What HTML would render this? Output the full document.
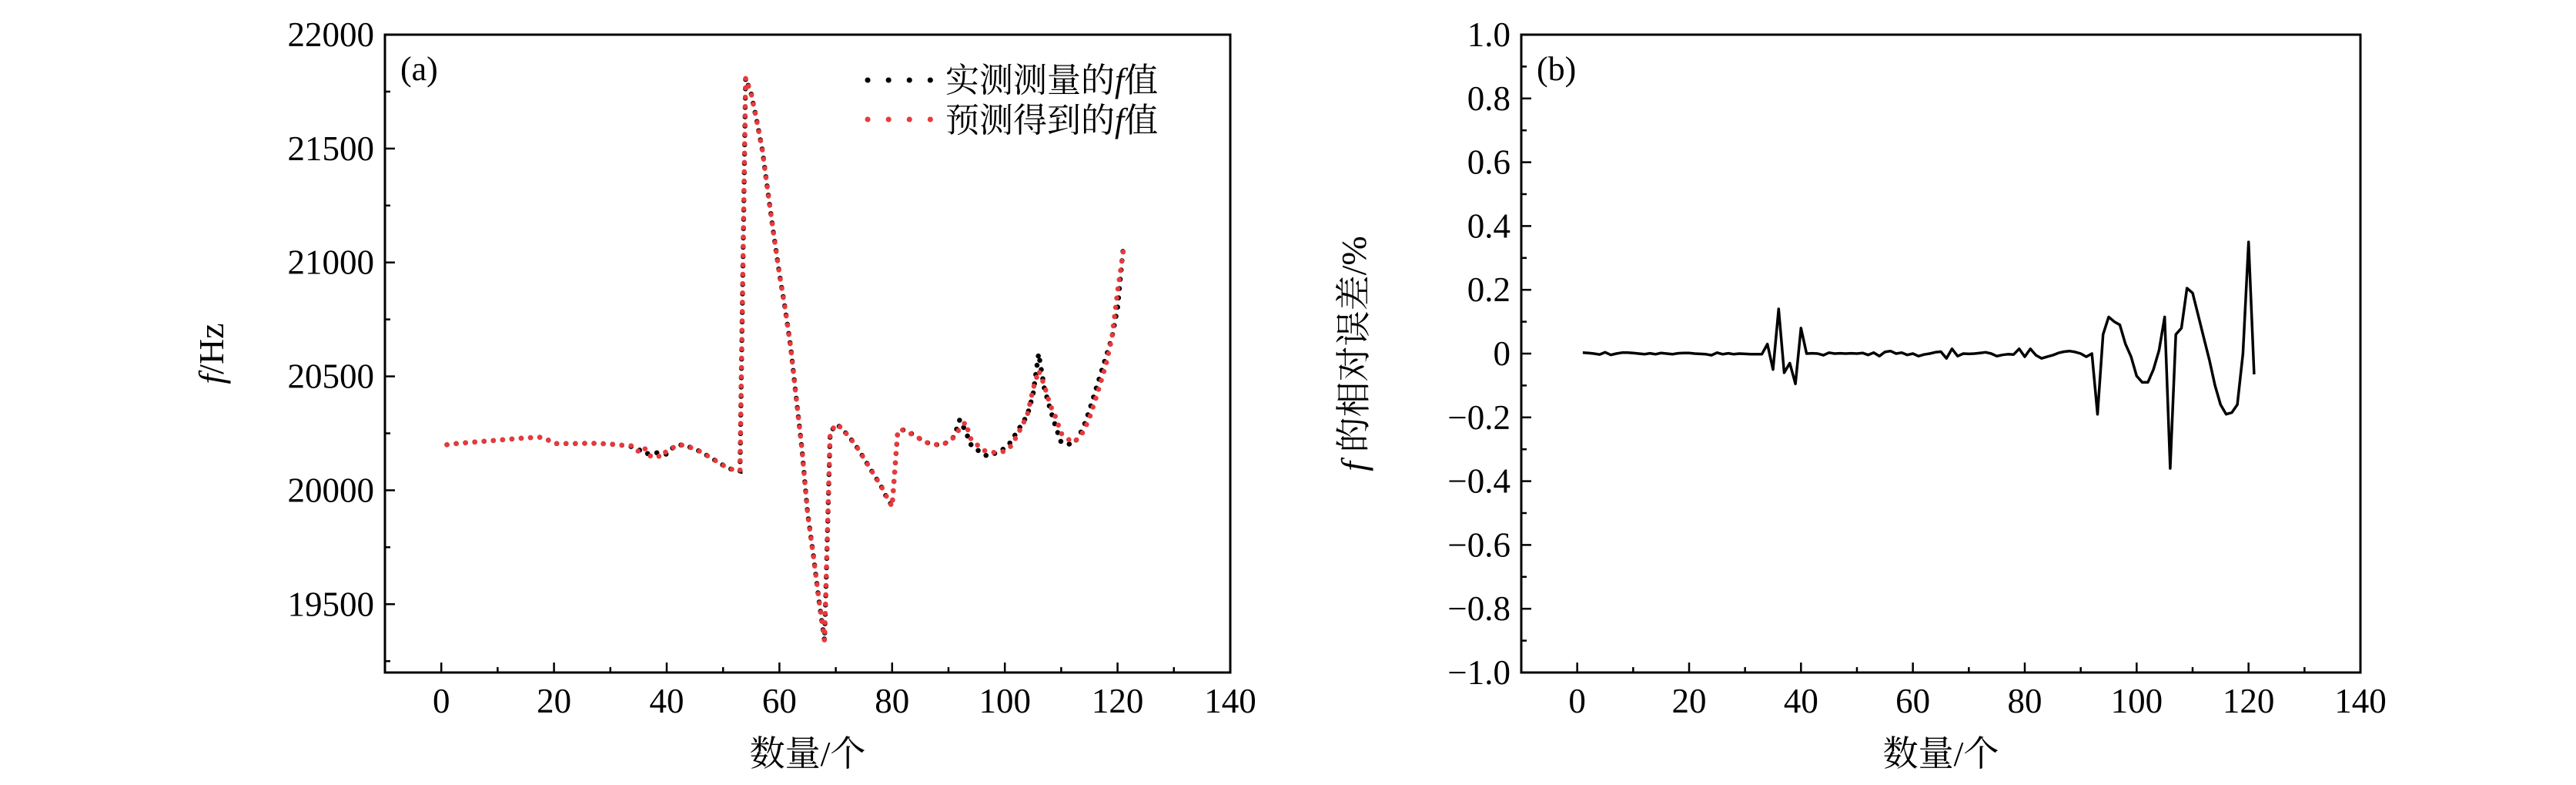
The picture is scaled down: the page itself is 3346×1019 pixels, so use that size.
<!DOCTYPE html>
<html><head><meta charset="utf-8"><style>
html,body{margin:0;padding:0;background:#fff}
svg text{font-family:"Liberation Serif","Noto Serif CJK SC",serif;fill:#000}
</style></head><body>
<svg id="chart" width="3346" height="1014" viewBox="0 0 3346 1014" xmlns="http://www.w3.org/2000/svg">
<g id="pa"></g>
<g id="pb"></g>
</svg>
<script>
const measuredF = [20200,20203,20206,20208,20210,20212,20214,20216,20218,20220,20222,20224,20226,20228,20230,20231,20232,20233,20220,20205,20205,20205,20205,20205,20206,20206,20206,20205,20204,20203,20200,20198,20195,20190,20180,20160,20162,20165,20163,20158,20185,20200,20198,20190,20180,20170,20155,20140,20125,20110,20095,20090,20085,21810,21740,21620,21490,21300,21120,20950,20800,20630,20400,20180,19900,19720,19520,19340,20250,20290,20275,20245,20215,20180,20140,20100,20060,20020,19970,19930,20260,20265,20255,20240,20225,20210,20205,20200,20200,20215,20235,20310,20260,20200,20180,20160,20150,20160,20170,20185,20210,20250,20290,20330,20420,20600,20450,20360,20280,20210,20205,20200,20230,20280,20350,20430,20510,20590,20670,20800,21060];
const predictedF = [20200,20203,20206,20208,20210,20212,20214,20216,20218,20220,20222,20224,20226,20228,20230,20231,20232,20233,20220,20205,20205,20205,20205,20205,20206,20206,20206,20205,20204,20203,20200,20198,20195,20196,20170,20188,20150,20158,20144,20174,20185,20200,20198,20190,20180,20170,20155,20140,20125,20110,20095,20090,20085,21810,21740,21620,21490,21300,21120,20950,20800,20630,20400,20180,19900,19717,19523,19340,20250,20290,20275,20245,20215,20180,20140,20100,20060,20020,19973,19928,20263,20265,20252,20240,20225,20210,20205,20200,20200,20215,20233,20271,20298,20224,20202,20178,20168,20166,20168,20171,20192,20232,20280,20332,20443,20526,20462,20376,20322,20250,20229,20210,20226,20260,20316,20391,20472,20557,20670,20873,21046];
const relError = [0.003,0.002,0,-0.003,0.004,-0.004,0,0.003,0.003,0.002,0,-0.002,0.001,-0.002,0.002,0,-0.002,0.001,0.002,0.002,0,-0.001,-0.002,-0.005,0.003,-0.002,0.001,-0.002,0,-0.001,-0.002,-0.002,-0.002,0.03,-0.05,0.14,-0.06,-0.03,-0.095,0.08,0,0.001,0,-0.005,0.003,0,0.001,0,0.001,0,0.002,-0.004,0.003,-0.008,0.005,0.008,0,0.003,-0.004,0,-0.008,-0.003,0,0.004,0.006,-0.015,0.015,-0.008,0,-0.001,0,0.002,0.004,0,-0.008,-0.004,-0.002,-0.003,0.015,-0.01,0.015,-0.005,-0.015,-0.01,-0.005,0.002,0.006,0.008,0.005,0,-0.01,0,-0.19,0.06,0.115,0.1,0.09,0.03,-0.01,-0.07,-0.09,-0.09,-0.05,0.01,0.115,-0.36,0.06,0.08,0.205,0.19,0.12,0.05,-0.02,-0.1,-0.16,-0.19,-0.185,-0.16,0,0.35,-0.065];
const xTicks = [0,20,40,60,80,100,120,140];
const yTicksA = [19500,20000,20500,21000,21500,22000];
const yTicksB = [-1.0,-0.8,-0.6,-0.4,-0.2,0,0.2,0.4,0.6,0.8,1.0];
const yLabelsB = ["−1.0","−0.8","−0.6","−0.4","−0.2","0","0.2","0.4","0.6","0.8","1.0"];

const NS="http://www.w3.org/2000/svg";
function mk(parent,tag,attrs,text){const e=document.createElementNS(NS,tag);for(const k in attrs)e.setAttribute(k,attrs[k]);if(text!==undefined)e.textContent=text;parent.appendChild(e);return e;}

const A={l:500,r:1598,t:45,b:873,x0:-10,x1:140,y0:19200,y1:22000};
const B={l:1976,r:3066,t:45,b:873,x0:-10,x1:140,y0:-1,y1:1};
function sx(P,v){return P.l+(v-P.x0)/(P.x1-P.x0)*(P.r-P.l);}
function sy(P,v){return P.b-(v-P.y0)/(P.y1-P.y0)*(P.b-P.t);}

function axes(g,P,yt,ylab){
  let e=mk(g,'rect',{x:P.l,y:P.t,width:P.r-P.l,height:P.b-P.t,fill:'none',stroke:'#000','stroke-width':3});
  
  for(let v=P.x0;v<=P.x1;v+=10){const big=xTicks.includes(v);
    e=mk(g,'line',{x1:sx(P,v),x2:sx(P,v),y1:P.b,y2:P.b-(big?13:7),stroke:'#000','stroke-width':2.5});
    }
  xTicks.forEach(v=>{e=mk(g,'text',{x:sx(P,v),y:P.b+52,'font-size':45,'text-anchor':'middle'},String(v));
    });
  const step=(yt[1]-yt[0])/2;
  for(let v=yt[0]-step;v<=P.y1+1e-9;v+=step){if(v<P.y0-1e-9)continue;const big=yt.some(t=>Math.abs(t-v)<1e-6);
    e=mk(g,'line',{x1:P.l,x2:P.l+(big?13:7),y1:sy(P,v),y2:sy(P,v),stroke:'#000','stroke-width':2.5});
    }
  yt.forEach((v,i)=>{e=mk(g,'text',{x:P.l-14,y:sy(P,v)+15,'font-size':45,'text-anchor':'end'},ylab[i]);
    });
  e=mk(g,'text',{x:(P.l+P.r)/2,y:994,'font-size':46,'text-anchor':'middle'},'数量/个');
  
}
function path(P,arr){return arr.map((v,i)=>(i?'L':'M')+sx(P,i+1).toFixed(1)+' '+sy(P,v).toFixed(1)).join(' ');}

const ga=document.getElementById('pa');
axes(ga,A,yTicksA,yTicksA.map(String));
let e=mk(ga,'path',{d:path(A,measuredF),fill:'none',stroke:'#000','stroke-width':6.5,'stroke-linecap':'round','stroke-dasharray':'0.1 12'});

e=mk(ga,'path',{d:path(A,predictedF),fill:'none',stroke:'#e8393c','stroke-width':6.5,'stroke-linecap':'round','stroke-dasharray':'0.1 12'});

e=mk(ga,'text',{x:520,y:104,'font-size':44},'(a)');

e=mk(ga,'text',{x:-459,y:290,'font-size':46,'text-anchor':'middle',transform:'rotate(-90)'});

mk(e,'tspan',{'font-style':'italic'},'f');mk(e,'tspan',{},'/Hz');
const leg=mk(ga,'g',{});

e=mk(leg,'line',{x1:1127,x2:1212,y1:104,y2:104,stroke:'#000','stroke-width':7,'stroke-linecap':'round','stroke-dasharray':'0.1 27'});

e=mk(leg,'text',{x:1228,y:119,'font-size':44});

mk(e,'tspan',{},'实测测量的');mk(e,'tspan',{'font-style':'italic'},'f');mk(e,'tspan',{},'值');
e=mk(leg,'line',{x1:1127,x2:1212,y1:155,y2:155,stroke:'#e8393c','stroke-width':7,'stroke-linecap':'round','stroke-dasharray':'0.1 27'});

e=mk(leg,'text',{x:1228,y:171,'font-size':44});

mk(e,'tspan',{},'预测得到的');mk(e,'tspan',{'font-style':'italic'},'f');mk(e,'tspan',{},'值');

const gb=document.getElementById('pb');
axes(gb,B,yTicksB,yLabelsB);
e=mk(gb,'path',{d:path(B,relError),fill:'none',stroke:'#000','stroke-width':3.5,'stroke-linejoin':'round'});

e=mk(gb,'text',{x:1996,y:104,'font-size':44},'(b)');

e=mk(gb,'text',{x:-459,y:1774,'font-size':46,'text-anchor':'middle',transform:'rotate(-90)'});

mk(e,'tspan',{'font-style':'italic'},'f ');mk(e,'tspan',{},'的相对误差/%');
</script>
</body></html>
